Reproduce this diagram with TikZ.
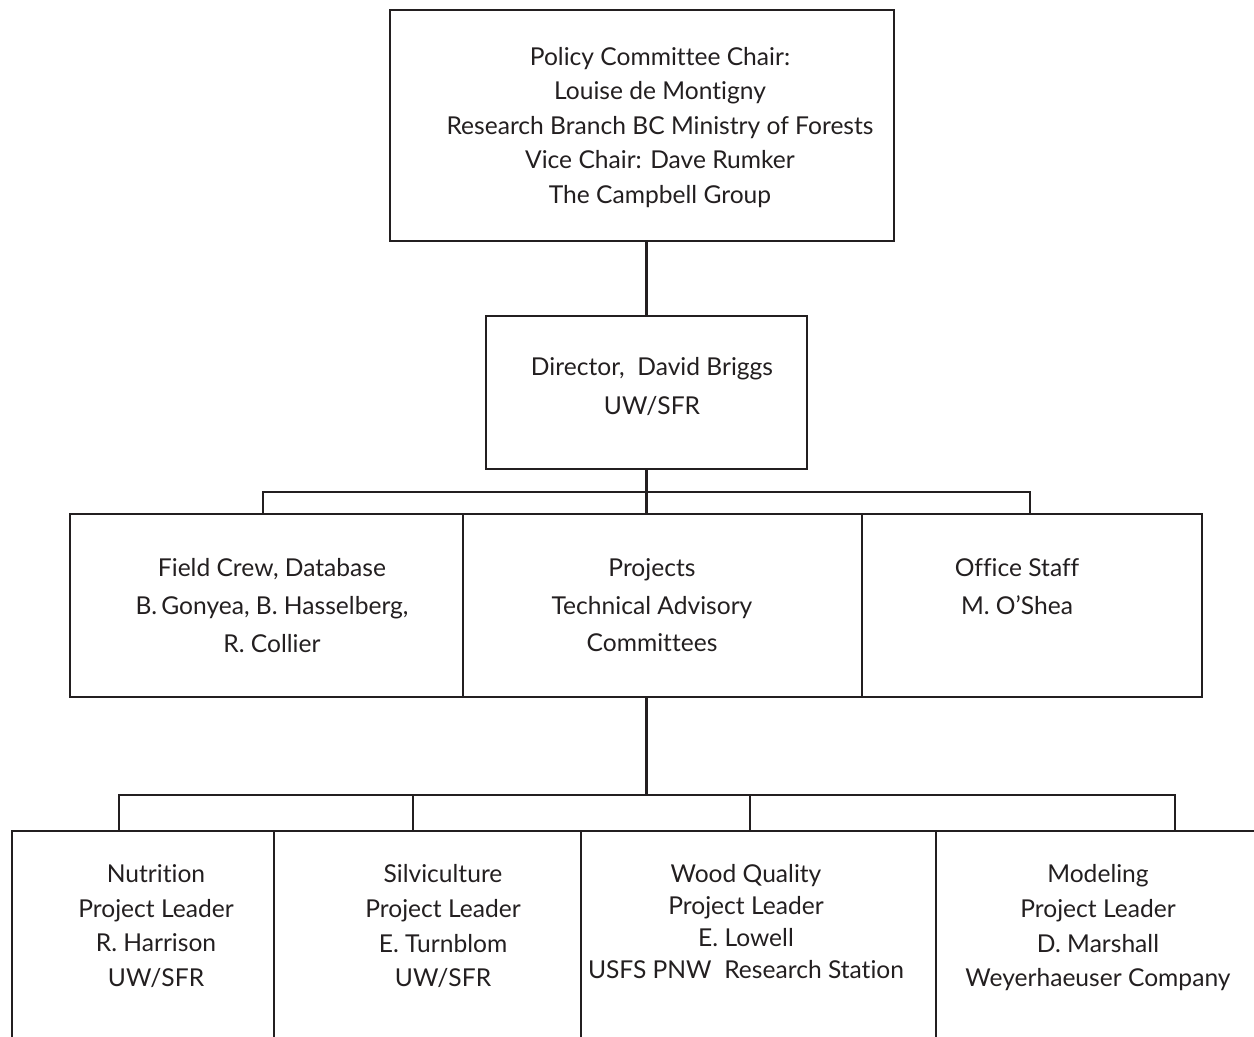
\documentclass[tikz,border=0pt]{standalone}
\usepackage{fontspec}
\setmainfont{Lato}[Ligatures={TeX,NoCommon}]
\usepackage{xcolor}
\usepackage{tikz}
\usetikzlibrary{positioning,fit,calc}
\definecolor{ink}{HTML}{231F20}

\begin{document}
\begin{tikzpicture}[
    x=0.02cm, y=-0.02cm,
    box/.style={rectangle, draw=ink, line width=1.2pt, inner sep=0pt, outer sep=0pt},
    txt/.style={align=center, inner sep=0pt, anchor=north, text=ink, font=\fontsize{14}{#1}\selectfont},
    txt/.default=20,
    link/.style={draw=ink, line width=1.2pt}
]
    \useasboundingbox (0,0) rectangle (1254,1036);
    \clip (0,0) rectangle (1254,1036);

    % boxes
    \node[box, fit={(390,10) (894,241)}] (policy) {};
    \node[box, fit={(486,316) (807,469)}] (director) {};
    \node[box, fit={(70,514) (463,697)}] (field) {};
    \node[box, fit={(463,514) (862,697)}] (projects) {};
    \node[box, fit={(862,514) (1202,697)}] (office) {};
    \node[box, fit={(12,831) (274,1060)}] (nutr) {};
    \node[box, fit={(274,831) (581,1060)}] (silv) {};
    \node[box, fit={(581,831) (936,1060)}] (wood) {};
    \node[box, fit={(936,831) (1270,1060)}] (model) {};

    % texts
    \node[txt=19.6] (policytxt) at (660,47) {Policy Committee Chair:\\Louise de Montigny\\Research Branch BC Ministry of Forests\\Vice Chair: Dave Rumker\\The Campbell Group};
    \node[txt=22] (directortxt) at (652,357) {Director,\ \ David Briggs\\UW/SFR};
    \node[txt=21.5] (fieldtxt) at (272,558) {Field Crew, Database\\B.\,Gonyea, B. Hasselberg,\\R. Collier};
    \node[txt=21.5] (projectstxt) at (652,558) {Projects\\Technical Advisory\\Committees};
    \node[txt=21.5] (officetxt) at (1017,558) {Office Staff\\M. O’Shea};
    \node[txt=19.8] (nutrtxt) at (156,864) {Nutrition\\Project Leader\\R. Harrison\\UW/SFR};
    \node[txt=19.8] (silvtxt) at (443,864) {Silviculture\\Project Leader\\E. Turnblom\\UW/SFR};
    \node[txt=18.2] (woodtxt) at (746,864) {Wood Quality\\Project Leader\\E. Lowell\\USFS PNW\ \ Research Station};
    \node[txt=19.8] (modeltxt) at (1098,864) {Modeling\\Project Leader\\D. Marshall\\Weyerhaeuser Company};

    % bars
    \coordinate (fbar) at (263,492);
    \coordinate (obar) at (1030,492);
    \coordinate (nbar) at (119,795);
    \coordinate (sbar) at (413,795);
    \coordinate (wbar) at (750,795);
    \coordinate (mbar) at (1175,795);

    \draw[link] (director.north) -- (director.north |- policy.south);
    \draw[link] (director.south) -- (director.south |- projects.north);
    \draw[link] (fbar |- field.north) -- (fbar) -- (obar) -- (obar |- office.north);
    \draw[link] (director.south |- projects.south) -- (director.south |- nbar);
    \draw[link] (nbar |- nutr.north) -- (nbar) -- (mbar) -- (mbar |- model.north);
    \draw[link] (sbar) -- (sbar |- silv.north);
    \draw[link] (wbar) -- (wbar |- wood.north);
\end{tikzpicture}
\end{document}
